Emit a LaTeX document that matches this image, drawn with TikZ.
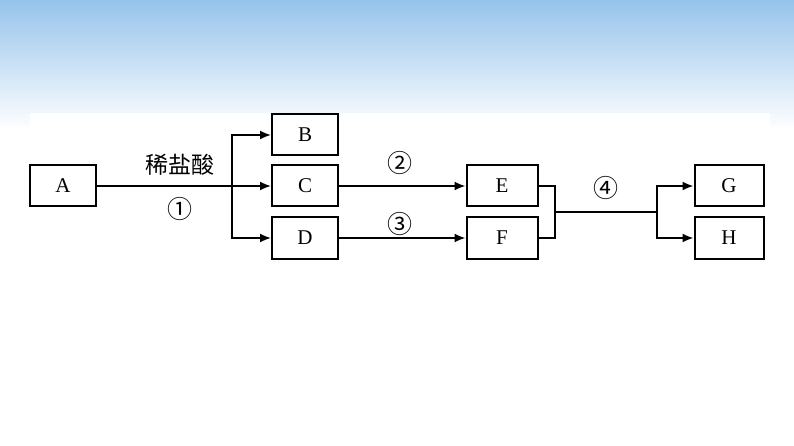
\documentclass[tikz,border=0pt]{standalone}
\usepackage{fontspec}
\setmainfont{Liberation Serif}
\newfontfamily\cjk{Noto Sans CJK SC}
\usetikzlibrary{arrows.meta}
\begin{document}
\begin{tikzpicture}[x=1pt,y=-1pt,
  bx/.style={draw,line width=2pt,minimum width=66pt,minimum height=41pt,inner sep=0pt,font=\fontsize{21}{21}\selectfont},
  ln/.style={line width=1.8pt},
  ar/.style={ln,-{Latex[length=11pt,width=9pt]}},
  cn/.style={font=\cjk\fontsize{25}{25}\selectfont}]
\useasboundingbox (0,0) rectangle (794,446);
\shade[top color={rgb,255:red,150;green,195;blue,235},bottom color=white] (0,0) rectangle (794,130);
\fill[white] (0,130) rectangle (794,446);
\fill[white] (30,113) rectangle (770,262);
\node[bx] (A) at (63,186) {A};
\node[bx] (B) at (305,135) {B};
\node[bx] (C) at (305,186) {C};
\node[bx] (D) at (305,238) {D};
\node[bx,minimum width=71pt] (E) at (502,186) {E};
\node[bx,minimum width=71pt] (F) at (502,238) {F};
\node[bx,minimum width=69pt] (G) at (729,186) {G};
\node[bx,minimum width=69pt] (H) at (729,238) {H};
\coordinate (s1) at (232,186);
\coordinate (s2) at (555,212);
\coordinate (s3) at (657,212);
\draw[ln] (A.east) -- (s1);
\draw[ar] (s1) |- (B.west);
\draw[ar] (s1) -- (C.west);
\draw[ar] (s1) |- (D.west);
\draw[ar] (C.east) -- (E.west);
\draw[ar] (D.east) -- (F.west);
\draw[ln] (E.east) -| (s2) |- (F.east);
\draw[ln] (s2) -- (s3);
\draw[ar] (s3) |- (G.west);
\draw[ar] (s3) |- (H.west);
\node[font=\cjk\fontsize{23}{23}\selectfont] (t1) at (180,165) {稀盐酸};
\node[cn] (c1) at (180,209) {①};
\node[cn] (c2) at (400,163) {②};
\node[cn] (c3) at (400,224) {③};
\node[cn] (c4) at (606,188) {④};
\end{tikzpicture}
\end{document}
